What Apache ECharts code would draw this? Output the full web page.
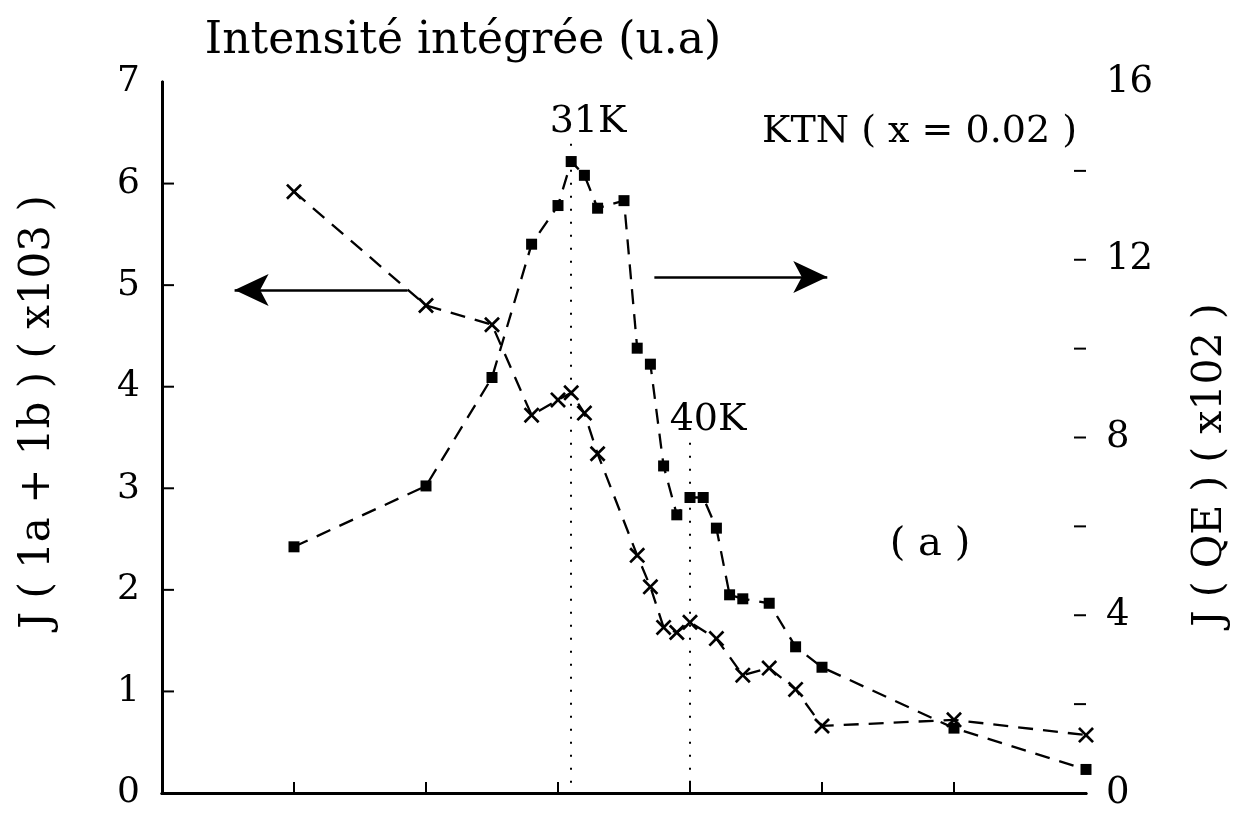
<!DOCTYPE html>
<html>
<head>
<meta charset="utf-8">
<script src="https://cdn.jsdelivr.net/npm/echarts@6/dist/echarts.min.js"></script>
<style>
  html, body { margin: 0; padding: 0; background: #fff; }
  #chart { width: 1239px; height: 816px; }
</style>
</head>
<body>
<div id="chart"></div>
<script>
// Temperature (K) of each measurement
const tempsQE = [10, 20, 25, 28, 30, 31, 32, 33, 35, 36, 37, 38, 39, 40, 41, 42, 43, 44, 46, 48, 50, 60, 70];
// J(QE) (x102), right axis, filled squares
const jQE = [5.54, 6.91, 9.35, 12.35, 13.22, 14.21, 13.90, 13.16, 13.33, 10.01, 9.65, 7.36, 6.26, 6.65, 6.65, 5.96, 4.46, 4.37, 4.27, 3.29, 2.83, 1.46, 0.53];

const temps1a1b = [10, 20, 25, 28, 30, 31, 32, 33, 36, 37, 38, 39, 40, 42, 44, 46, 48, 50, 60, 70];
// J(1a+1b) (x103), left axis, crosses
const j1a1b = [5.92, 4.80, 4.61, 3.72, 3.87, 3.94, 3.74, 3.34, 2.34, 2.03, 1.63, 1.58, 1.68, 1.52, 1.16, 1.23, 1.02, 0.66, 0.72, 0.57];

// Axis ticks
const xTicks = [10, 20, 30, 40, 50, 60];
const leftTicks = [1, 2, 3, 4, 5, 6];
const rightTicks = [2, 4, 6, 8, 10, 12, 14];
const rightLabels = [0, 4, 8, 12, 16];

// Marked transition temperatures and the heights of their guide lines (left-axis units)
const markTemps = [31, 40];
const markTops = [6.44, 3.52];

const FONT = 'DejaVu Serif';
const pair = (xs, ys) => xs.map((x, i) => [x, ys[i]]);

const crossPath = 'path://M0,1.2L1.2,0L5,3.8L8.8,0L10,1.2L6.2,5L10,8.8L8.8,10L5,6.2L1.2,10L0,8.8L3.8,5Z';

const chart = echarts.init(document.getElementById('chart'), null, { renderer: 'canvas' });

const axisLineStyle = { color: '#000', width: 3 };
const noLabel = { show: false };
const noSplit = { show: false };
const noTick = { show: false };

// Short inward tick marks drawn from axis values; dx/dy is the pixel direction into the plot
function tickSeries(yAxisIndex, points, dx, dy) {
  return {
    type: 'custom',
    xAxisIndex: 0,
    yAxisIndex: yAxisIndex,
    silent: true,
    clip: false,
    z: 5,
    data: points,
    renderItem: (params, api) => {
      const p = api.coord([api.value(0), api.value(1)]);
      return {
        type: 'line',
        shape: { x1: p[0], y1: p[1], x2: p[0] + dx, y2: p[1] + dy },
        style: { stroke: '#000', lineWidth: 2 }
      };
    }
  };
}

const option = {
  backgroundColor: '#fff',
  animation: false,
  grid: { left: 162, right: 153, top: 82, bottom: 23 },
  xAxis: [
    {
      type: 'value', min: 0, max: 70, interval: 10, position: 'bottom',
      axisLine: { lineStyle: axisLineStyle },
      axisTick: noTick, axisLabel: noLabel, splitLine: noSplit
    },
    {
      type: 'value', min: 0, max: 70, interval: 10, position: 'top',
      axisLine: { lineStyle: axisLineStyle },
      axisTick: noTick, axisLabel: noLabel, splitLine: noSplit
    }
  ],
  yAxis: [
    {
      type: 'value', min: 0, max: 7, interval: 1,
      position: 'left',
      axisLine: { show: true, lineStyle: axisLineStyle },
      axisTick: noTick,
      axisLabel: { color: '#000', fontFamily: FONT, fontSize: 36, margin: 22 },
      splitLine: noSplit
    },
    {
      type: 'value', min: 0, max: 16, interval: 2,
      position: 'right',
      axisLine: { show: true, lineStyle: axisLineStyle },
      axisTick: noTick,
      axisLabel: {
        color: '#000', fontFamily: FONT, fontSize: 37, margin: 20,
        formatter: v => (rightLabels.indexOf(v) >= 0 ? String(v) : '')
      },
      splitLine: noSplit
    }
  ],
  series: [
    {
      name: 'J(1a+1b)',
      type: 'line',
      xAxisIndex: 0, yAxisIndex: 0,
      data: pair(temps1a1b, j1a1b),
      symbol: crossPath,
      symbolSize: 16,
      itemStyle: { color: '#000' },
      lineStyle: { color: '#000', width: 2.3, type: [15, 10] },
      z: 3,
      markLine: {
        silent: true,
        symbol: ['none', 'none'],
        label: { show: false },
        lineStyle: { color: '#000', width: 2, type: [2, 11] },
        data: markTemps.map((t, i) => [{ coord: [t, 0.1] }, { coord: [t, markTops[i]] }])
      }
    },
    {
      name: 'J(QE)',
      type: 'line',
      xAxisIndex: 0, yAxisIndex: 1,
      data: pair(tempsQE, jQE),
      symbol: 'rect',
      symbolSize: 11,
      itemStyle: { color: '#000' },
      lineStyle: { color: '#000', width: 2.3, type: [15, 10] },
      z: 4,
      markLine: {
        silent: true,
        label: { show: false },
        symbol: ['none', 'arrow'],
        symbolSize: [24, 34],
        lineStyle: { color: '#000', width: 2.5, type: 'solid' },
        data: [
          [{ coord: [18.6, 11.32] }, { coord: [5.5, 11.32] }],
          [{ coord: [37.3, 11.61] }, { coord: [50.4, 11.61] }]
        ]
      }
    },
    tickSeries(0, xTicks.map(t => [t, 0]), 0, -11),
    tickSeries(0, leftTicks.map(v => [0, v]), 12, 0),
    tickSeries(1, rightTicks.map(v => [70, v]), -12, 0)
  ],
  graphic: [
    {
      type: 'text', x: 463, y: 42,
      style: { text: 'Intensité intégrée (u.a)', font: '44px "' + FONT + '"', fill: '#000', align: 'center', verticalAlign: 'middle' }
    },
    {
      type: 'text', x: 588, y: 122,
      style: { text: '31K', font: '38px "' + FONT + '"', fill: '#000', align: 'center', verticalAlign: 'middle' }
    },
    {
      type: 'text', x: 708, y: 420,
      style: { text: '40K', font: '38px "' + FONT + '"', fill: '#000', align: 'center', verticalAlign: 'middle' }
    },
    {
      type: 'text', x: 1077, y: 132,
      style: { text: 'KTN ( x = 0.02 )', font: '38px "' + FONT + '"', fill: '#000', align: 'right', verticalAlign: 'middle' }
    },
    {
      type: 'text', x: 930, y: 545,
      style: { text: '( a )', font: '40px "' + FONT + '"', fill: '#000', align: 'center', verticalAlign: 'middle' }
    },
    {
      type: 'text', x: 38, y: 412, rotation: Math.PI / 2,
      style: { text: 'J ( 1a + 1b ) ( x103 )', font: '42px "' + FONT + '"', fill: '#000', align: 'center', verticalAlign: 'middle' }
    },
    {
      type: 'text', x: 1210, y: 465, rotation: Math.PI / 2,
      style: { text: 'J ( QE ) ( x102 )', font: '41px "' + FONT + '"', fill: '#000', align: 'center', verticalAlign: 'middle' }
    }
  ]
};

chart.setOption(option);
</script>
</body>
</html>
